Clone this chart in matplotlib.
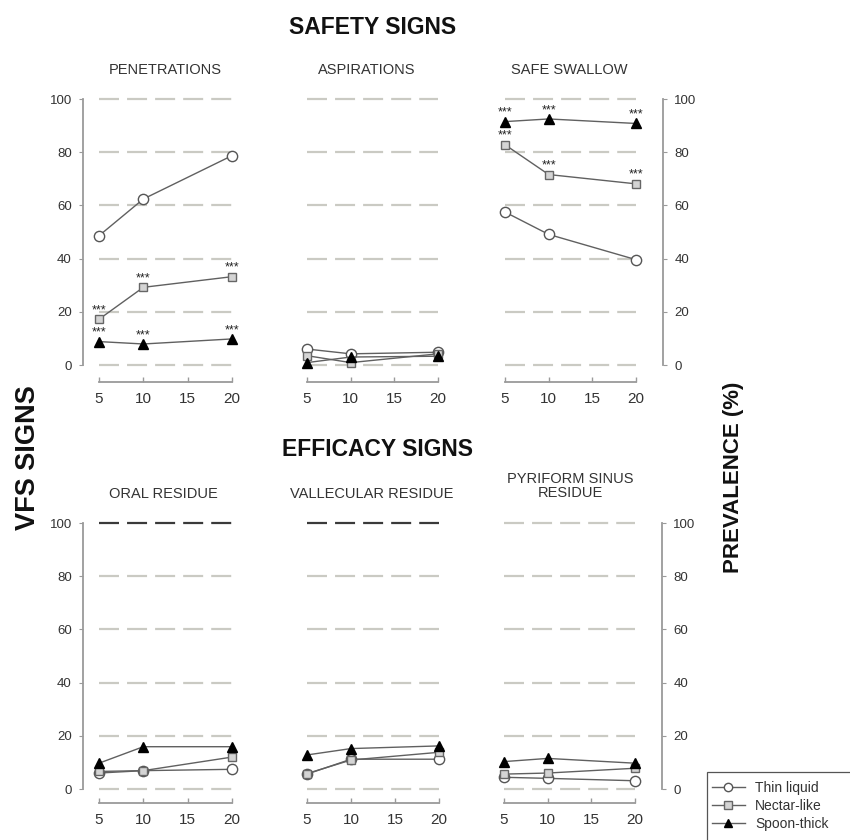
import matplotlib
matplotlib.use("Agg")
import matplotlib.pyplot as plt
from matplotlib.lines import Line2D
from matplotlib.patches import Rectangle

plt.rcParams['font.family'] = ['Liberation Sans', 'DejaVu Sans']
plt.rcParams['lines.scale_dashes'] = False

# ---------------- data ----------------
bolus_volume = [5, 10, 20]
x_ticks = [5, 10, 15, 20]
y_ticks = [0, 20, 40, 60, 80, 100]
series_names = ["Thin liquid", "Nectar-like", "Spoon-thick"]

penetrations_thin = [48.6, 62.4, 78.7]
penetrations_nectar = [17.2, 29.2, 33.2]
penetrations_spoon = [8.8, 7.9, 9.8]

aspirations_thin = [6.0, 4.2, 4.8]
aspirations_nectar = [3.5, 0.9, 4.2]
aspirations_spoon = [0.9, 3.0, 3.3]

safe_thin = [57.5, 49.1, 39.6]
safe_nectar = [82.8, 71.6, 68.1]
safe_spoon = [91.5, 92.5, 90.8]

oral_thin = [6.0, 6.9, 7.4]
oral_nectar = [6.6, 6.9, 12.0]
oral_spoon = [9.7, 15.9, 15.9]

vallec_thin = [5.6, 11.2, 11.2]
vallec_nectar = [5.8, 10.9, 13.8]
vallec_spoon = [12.8, 15.2, 16.2]

pyri_thin = [4.4, 4.0, 3.1]
pyri_nectar = [5.6, 6.0, 7.8]
pyri_spoon = [10.3, 11.5, 9.7]

# significance marks (***) per series: [thin, nectar, spoon]
pen_sig = [[], [0, 1, 2], [0, 1, 2]]
safe_sig = [[], [0, 1, 2], [0, 1, 2]]
sig_text = "***"

panel_titles = ["PENETRATIONS", "ASPIRATIONS", "SAFE SWALLOW",
                "ORAL RESIDUE", "VALLECULAR RESIDUE", "PYRIFORM SINUS\nRESIDUE"]

# ---------------- style ----------------
W, H = 850, 840
fig = plt.figure(figsize=(W / 100, H / 100), dpi=100)

grey_axis = "#9a9a9a"
grid_col = "#cacac3"
txt_col = "#333333"
line_col = "#606060"

styles = [
    dict(marker="o", mfc="white", mec="#555555", ms=7.4, mew=1.0),
    dict(marker="s", mfc="#d4d4d4", mec="#666666", ms=6.3, mew=1.0),
    dict(marker="^", mfc="black", mec="black", ms=6.5, mew=1.0),
]


def px_axes(x0, x1, ytop, ybot):
    return fig.add_axes([x0 / W, 1 - ybot / H, (x1 - x0) / W, (ybot - ytop) / H])


def make_panel(ax, data, left_axis=False, right_axis=False, dark_top=False,
               sig=None, xoff=11.0):
    ax.set_xlim(5, 20)
    ax.set_ylim(0, 100)
    for s in ["top", "right", "left"]:
        ax.spines[s].set_visible(False)
    ax.spines["bottom"].set_position(("outward", xoff))
    ax.spines["bottom"].set_color(grey_axis)
    ax.spines["bottom"].set_linewidth(1.3)
    ax.set_xticks(x_ticks)
    ax.set_xticklabels([str(t) for t in x_ticks])
    ax.tick_params(axis="x", direction="in", length=3.5, width=1, color=grey_axis,
                   labelsize=11, labelcolor=txt_col, pad=7.5)
    for yv in y_ticks:
        c = "#3a3a3a" if (dark_top and yv == 100) else grid_col
        ax.axhline(yv, color=c, lw=1.6, linestyle=(0, (14.4, 5.8)), zorder=0,
                   clip_on=False)
    if left_axis:
        ax.spines["left"].set_visible(True)
        ax.spines["left"].set_position(("outward", 11.5))
        ax.spines["left"].set_color(grey_axis)
        ax.spines["left"].set_linewidth(1.3)
        ax.set_yticks(y_ticks)
        ax.tick_params(axis="y", direction="out", length=3, color=grey_axis,
                       labelsize=9.5, labelcolor=txt_col, pad=5)
    elif right_axis:
        ax.spines["right"].set_visible(True)
        ax.spines["right"].set_position(("outward", 19.5))
        ax.spines["right"].set_color(grey_axis)
        ax.spines["right"].set_linewidth(1.3)
        ax.yaxis.tick_right()
        ax.set_yticks(y_ticks)
        ax.tick_params(axis="y", direction="out", length=3, color=grey_axis,
                       labelsize=9.5, labelcolor=txt_col, pad=5)
    else:
        ax.set_yticks([])
    for i, vals in enumerate(data):
        ax.plot(bolus_volume, vals, color=line_col, lw=1.0, clip_on=False,
                zorder=3 + i, **styles[i])
    if sig is not None:
        for i, idxs in enumerate(sig):
            for j in idxs:
                ax.annotate(sig_text, (bolus_volume[j], data[i][j]),
                            xytext=(0, 4.3), textcoords="offset points",
                            ha="center", va="baseline", fontsize=9,
                            color="#222222", annotation_clip=False, zorder=10)
    ax.patch.set_alpha(0)
    return ax


top_y0, top_y1 = 99, 365
bot_y0, bot_y1 = 523, 789

ax1 = px_axes(99, 232, top_y0, top_y1)
make_panel(ax1, [penetrations_thin, penetrations_nectar, penetrations_spoon],
           left_axis=True, sig=pen_sig, xoff=12)
ax2 = px_axes(307, 438, top_y0, top_y1)
make_panel(ax2, [aspirations_thin, aspirations_nectar, aspirations_spoon], xoff=12)
ax3 = px_axes(505, 636, top_y0, top_y1)
make_panel(ax3, [safe_thin, safe_nectar, safe_spoon], right_axis=True,
           sig=safe_sig, xoff=12)

ax4 = px_axes(99, 232, bot_y0, bot_y1)
make_panel(ax4, [oral_thin, oral_nectar, oral_spoon], left_axis=True,
           dark_top=True, xoff=10)
ax5 = px_axes(307, 439, bot_y0, bot_y1)
make_panel(ax5, [vallec_thin, vallec_nectar, vallec_spoon], dark_top=True, xoff=10)
ax6 = px_axes(504, 635, bot_y0, bot_y1)
make_panel(ax6, [pyri_thin, pyri_nectar, pyri_spoon], right_axis=True, xoff=10)


def ftext(x, y, s, **kw):
    fig.text(x / W, 1 - y / H, s, **kw)


ftext(373, 28, "SAFETY SIGNS", ha="center", va="center", fontsize=16.5,
      fontweight="bold", color="#111111")
ftext(378, 450, "EFFICACY SIGNS", ha="center", va="center", fontsize=16.5,
      fontweight="bold", color="#111111")
sub_kw = dict(ha="center", va="center", fontsize=10.5, color=txt_col)
ftext(165, 70, panel_titles[0], **sub_kw)
ftext(367, 70, panel_titles[1], **sub_kw)
ftext(569, 70, panel_titles[2], **sub_kw)
ftext(163, 494, panel_titles[3], **sub_kw)
ftext(372, 494, panel_titles[4], **sub_kw)
ftext(570, 486, panel_titles[5], linespacing=1.0, **sub_kw)

ftext(28, 458, "VFS SIGNS", ha="center", va="center", rotation=90,
      fontsize=19.5, fontweight="bold", color="#111111")
ftext(733, 477, "PREVALENCE (%)", ha="center", va="center", rotation=90,
      fontsize=16, fontweight="bold", color="#111111")

# legend (box runs off the figure edge as in the reference)
fig.patches.append(Rectangle((707 / W, 1 - 880 / H), 200 / W, 108 / H,
                             transform=fig.transFigure, fill=False,
                             edgecolor="#555555", lw=0.9))
handles = [Line2D([0], [0], color=line_col, lw=1.0, **styles[i]) for i in range(3)]
for h in handles:
    h.set_markersize(6)
leg = fig.legend(handles, series_names, loc="upper left",
                 bbox_to_anchor=(709 / W, 1 - 778 / H), frameon=False,
                 fontsize=10, handlelength=2.4, labelspacing=0.3, borderpad=0.2,
                 handletextpad=0.7, borderaxespad=0)
for t in leg.get_texts():
    t.set_color(txt_col)

fig.savefig("out.png", dpi=100, facecolor="white")
